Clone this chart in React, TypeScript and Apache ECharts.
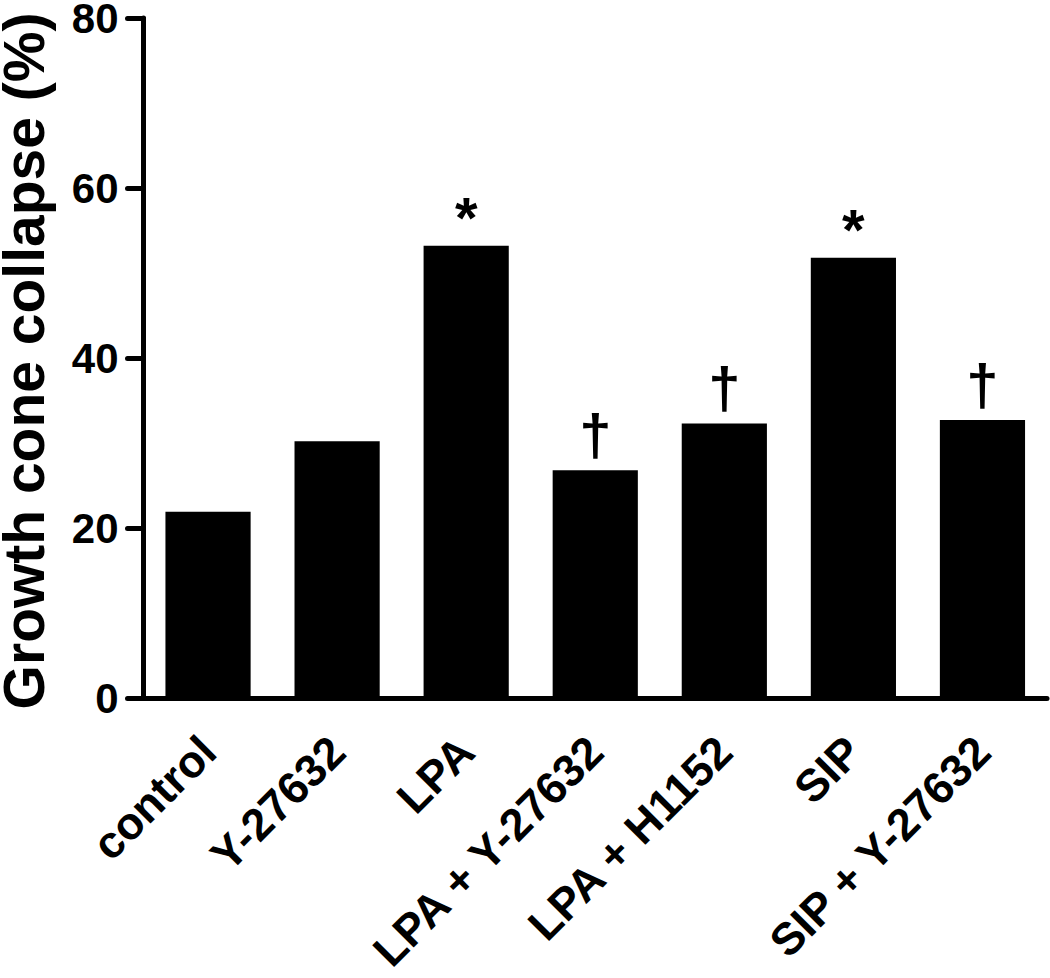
import React, { useEffect, useRef } from "react";
import * as echarts from "echarts";

const categories = [
  "control",
  "Y-27632",
  "LPA",
  "LPA + Y-27632",
  "LPA + H1152",
  "SIP",
  "SIP + Y-27632",
];
const collapseValues = [21.9, 30.2, 53.2, 26.8, 32.3, 51.8, 32.7];
const significance = ["", "", "*", "†", "†", "*", "†"];
const yTicks = [0, 20, 40, 60, 80];
const yTitle = "Growth cone collapse (%)";

const FONT = "'Liberation Sans', Arial, Helvetica, sans-serif";

export default function App() {
  const ref = useRef<HTMLDivElement>(null);
  useEffect(() => {
    document.body.style.margin = "0";
    if (!ref.current) return;
    const chart = echarts.init(ref.current, undefined, { renderer: "svg" });
    chart.setOption({
      animation: false,
      backgroundColor: "#ffffff",
      grid: {
        left: 143.5,
        right: 3,
        top: 18,
        bottom: 280,
        containLabel: false,
        outerBoundsMode: "none",
      },
      xAxis: {
        type: "category",
        data: categories,
        axisLine: { lineStyle: { color: "#000", width: 5, cap: "round" } },
        axisTick: {
          alignWithLabel: true,
          length: 18,
          lineStyle: { color: "#000", width: 5, cap: "round" },
        },
        axisLabel: {
          rotate: 45,
          interval: 0,
          margin: 46,
          color: "#000",
          fontFamily: FONT,
          fontWeight: "bold",
          fontSize: 45,
          lineHeight: 40,
        },
      },
      yAxis: {
        type: "value",
        min: yTicks[0],
        max: yTicks[yTicks.length - 1],
        interval: 20,
        splitLine: { show: false },
        axisLine: { show: true, lineStyle: { color: "#000", width: 5, cap: "round" } },
        axisTick: { show: true, length: 16, lineStyle: { color: "#000", width: 5, cap: "round" } },
        axisLabel: {
          margin: 25,
          color: "#000",
          fontFamily: FONT,
          fontWeight: "bold",
          fontSize: 42,
          lineHeight: 30,
        },
      },
      graphic: [
        {
          type: "text",
          x: 24,
          y: 361,
          rotation: Math.PI / 2,
          style: {
            text: yTitle,
            fontFamily: FONT,
            fontWeight: "bold",
            fontSize: 57,
            lineHeight: 44,
            fill: "#000",
            align: "center",
            verticalAlign: "middle",
          },
        },
      ],
      series: [
        {
          type: "bar",
          data: collapseValues,
          barWidth: "66%",
          itemStyle: { color: "#000" },
          label: {
            show: true,
            position: "top",
            distance: 8,
            color: "#000",
            fontFamily: FONT,
            formatter: (p: any) => {
              const s = significance[p.dataIndex];
              if (s === "*") return "{ast|*}";
              if (s === "†") return "{dag|†}";
              return "";
            },
            rich: {
              ast: { fontSize: 58, fontWeight: "bold", fontFamily: FONT, color: "#000", lineHeight: 40 },
              dag: { fontSize: 58, fontWeight: "bold", fontFamily: FONT, color: "#000", lineHeight: 56 },
            },
          },
        },
      ],
    });
    return () => chart.dispose();
  }, []);
  return <div ref={ref} style={{ width: 1050, height: 978 }} />;
}
